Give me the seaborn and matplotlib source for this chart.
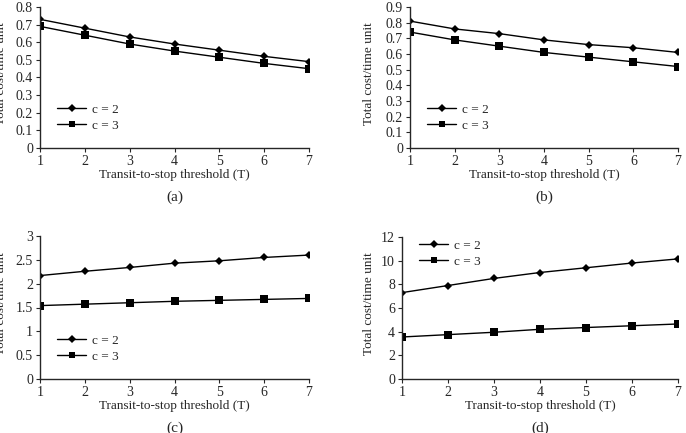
import matplotlib
matplotlib.use("Agg")
import matplotlib.pyplot as plt
import seaborn as sns
import numpy as np
import pandas as pd

### data
T = [1, 2, 3, 4, 5, 6, 7]
a_c2 = [0.73, 0.68, 0.63, 0.59, 0.555, 0.52, 0.49]
a_c3 = [0.69, 0.64, 0.59, 0.55, 0.515, 0.48, 0.45]
b_c2 = [0.81, 0.76, 0.73, 0.69, 0.66, 0.64, 0.61]
b_c3 = [0.74, 0.69, 0.65, 0.61, 0.58, 0.55, 0.52]
c_c2 = [2.17, 2.26, 2.34, 2.43, 2.48, 2.55, 2.60]
c_c3 = [1.54, 1.57, 1.60, 1.63, 1.65, 1.67, 1.69]
d_c2 = [7.3, 7.9, 8.5, 9.0, 9.4, 9.8, 10.15]
d_c3 = [3.55, 3.75, 3.95, 4.2, 4.35, 4.5, 4.65]
series_names = ["c = 2", "c = 3"]
panel_labels = ["(a)", "(b)", "(c)", "(d)"]

sns.set_style("ticks")
plt.rcParams['font.family'] = ['Liberation Serif', 'DejaVu Serif']
plt.rcParams['font.size'] = 9

W, H = 686.0, 433.0
fig = plt.figure(figsize=(W / 100, H / 100), dpi=100)

# (left, top, right, bottom) in pixels, ymax, ystep, ylabel offset, legend anchor
panels = [
	(a_c2, a_c3, (40, 7, 309, 148), 0.8, 0.1, 33, (0.02, 0.03)),
	(b_c2, b_c3, (410, 7, 678, 148), 0.9, 0.1, 35, (0.02, 0.03)),
	(c_c2, c_c3, (40, 236, 309, 379), 3.0, 0.5, 33, (0.02, 0.03)),
	(d_c2, d_c3, (402, 237, 678, 379), 12, 2, 27, (0.02, 0.70)),
]

for i, (s2, s3, box, ymax, ystep, yoff, legpos) in enumerate(panels):
	l, t, r, b = box
	ax = fig.add_axes([l / W, (H - b) / H, (r - l) / W, (b - t) / H])
	df = pd.DataFrame({
		"T": T + T,
		"cost": s2 + s3,
		"c": [series_names[0]] * len(T) + [series_names[1]] * len(T),
	})
	sns.lineplot(data=df, x="T", y="cost", hue="c", style="c",
	             markers={"c = 2": "D", "c = 3": "s"}, dashes=False,
	             palette=["black", "black"], linewidth=1.0,
	             markersize=4.5, markeredgewidth=0, ax=ax)
	# bigger squares for c = 3
	ax.lines[1].set_markersize(6)

	ax.set_xlim(1, 7)
	ax.set_ylim(0, ymax)
	ax.set_xticks(T)
	yt = np.arange(0, ymax + ystep / 2, ystep)
	ax.set_yticks(yt)
	ax.set_yticklabels(["%g" % round(v, 2) for v in yt])
	ax.tick_params(length=3, width=0.8, pad=2, labelsize=10)
	for sp in ["left", "bottom"]:
		ax.spines[sp].set_linewidth(1.0)
	sns.despine(ax=ax)

	pw, ph = r - l, b - t
	ax.set_xlabel("Transit-to-stop threshold (T)", fontsize=9.5)
	ax.xaxis.set_label_coords(0.5, -21.0 / ph)
	ax.set_ylabel("Total cost/time unit", fontsize=9.5)
	ax.yaxis.set_label_coords(-float(yoff) / pw, 0.53)
	ax.text(0.5, -49.0 / ph, panel_labels[i], transform=ax.transAxes,
	        ha="center", va="center", fontsize=11)

	leg = ax.legend(loc="lower left", bbox_to_anchor=legpos, frameon=False,
	                handlelength=2.2, handletextpad=0.4, labelspacing=0.3,
	                fontsize=9.5, title=None)

fig.savefig("out.png", dpi=100)
